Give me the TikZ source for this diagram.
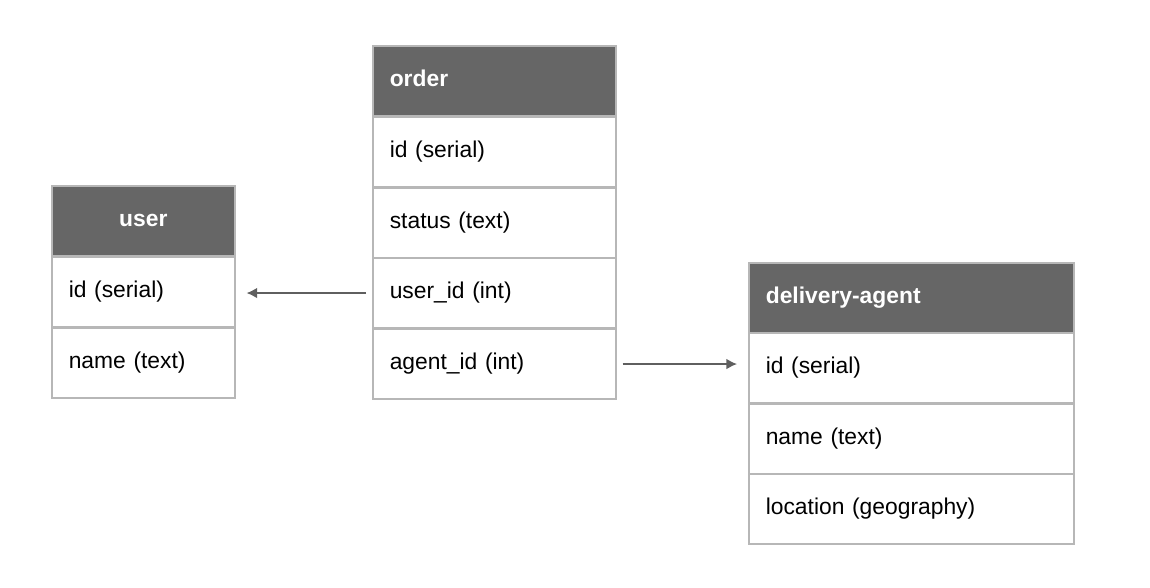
\documentclass[tikz,border=0pt]{standalone}
\usepackage{fontspec}
\setmainfont{Liberation Sans}
\usetikzlibrary{positioning,arrows.meta}
\definecolor{headgray}{HTML}{666666}
\definecolor{linegray}{HTML}{B7B7B7}
\definecolor{arrowgray}{HTML}{5F5F5F}
\begin{document}
\begin{tikzpicture}[x=0.02cm,y=-0.02cm,
  cell/.style={draw=linegray,line width=0.9pt,anchor=north west,minimum height=1.41cm,
    inner xsep=0.34cm,text height=9pt,text depth=3pt,font=\fontsize{13}{15}\selectfont,align=left},
  head/.style={cell,fill=headgray,text=white,font=\fontsize{13}{15}\selectfont\bfseries},
  link/.style={draw=arrowgray,line width=0.8pt,-{Latex[length=6pt,width=6pt]}}]
\useasboundingbox (0,0) rectangle (1150,588);

% Draw the user table
\node[head,minimum width=3.66cm,text width=2.98cm,align=center] (user) at (51,185) {user};
\node[cell,minimum width=3.66cm,text width=2.98cm] (user-id) at (51,256) {id (serial)};
\node[cell,minimum width=3.66cm,text width=2.98cm] (user-name) at (51,327) {name (text)};

% Draw the order table
\node[head,minimum width=4.86cm,text width=4.18cm] (order) at (372,45) {order};
\node[cell,minimum width=4.86cm,text width=4.18cm] (order-id) at (372,116) {id (serial)};
\node[cell,minimum width=4.86cm,text width=4.18cm] (order-status) at (372,187) {status (text)};
\node[cell,minimum width=4.86cm,text width=4.18cm] (order-user) at (372,257) {user\_id (int)};
\node[cell,minimum width=4.86cm,text width=4.18cm] (order-agent) at (372,328) {agent\_id (int)};

% Draw the delivery-agent table
\node[head,minimum width=6.5cm,text width=5.82cm] (agent) at (748,262) {delivery-agent};
\node[cell,minimum width=6.5cm,text width=5.82cm] (agent-id) at (748,332) {id (serial)};
\node[cell,minimum width=6.5cm,text width=5.82cm] (agent-name) at (748,403) {name (text)};
\node[cell,minimum width=6.5cm,text width=5.82cm] (agent-loc) at (748,473) {location (geography)};

% Draw the foreign key arrows
\draw[link,shorten <=0.12cm,shorten >=0.22cm] (order-user.west) -- (order-user.west -| user-id.east);
\draw[link,shorten <=0.12cm,shorten >=0.22cm] (order-agent.east) -- (order-agent.east -| agent-id.west);

\end{tikzpicture}
\end{document}
